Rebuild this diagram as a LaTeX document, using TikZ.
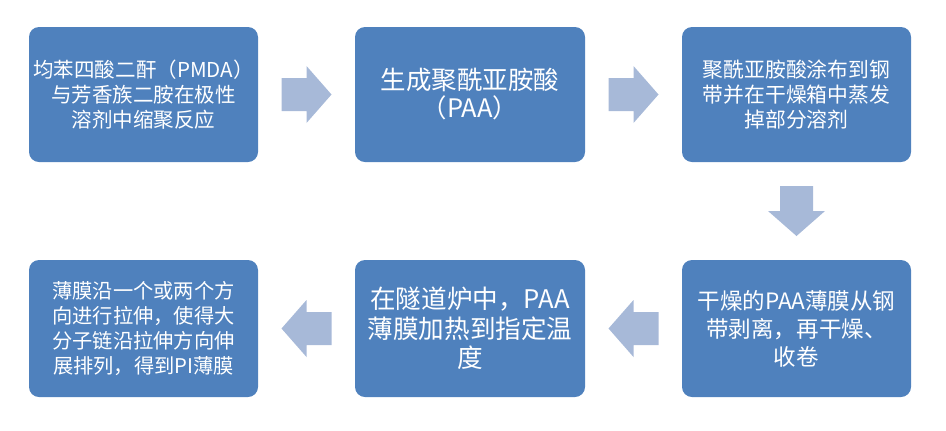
\documentclass[tikz,border=0pt]{standalone}
\usepackage{fontspec}
\setmainfont{Noto Sans CJK SC}
\usetikzlibrary{calc}
\definecolor{boxc}{RGB}{79,129,189}
\definecolor{arrc}{RGB}{167,185,216}
\tikzset{
  stepbox/.style={rounded corners=7.5pt, fill=boxc, text=white, align=center, inner sep=0pt,
    minimum width=171.75pt, minimum height=101.25pt},
  lowbox/.style={stepbox, minimum height=102.75pt},
  blockarrow/.pic={\fill[arrc] (-25,-16.5)--(0,-16.5)--(0,-28.5)--(25,0)--(0,28.5)--(0,16.5)--(-25,16.5)--cycle;}
}
\begin{document}
\begin{tikzpicture}[x=0.75pt,y=-0.75pt]
\useasboundingbox (0,0) rectangle (946,430);
\node[stepbox, font=\fontsize{15.4pt}{18.75pt}\selectfont] (b1) at (143.5,94.5)
  {均苯四酸二酐（PMDA）\\与芳香族二胺在极性\\溶剂中缩聚反应};
\node[stepbox, minimum width=172.5pt, font=\fontsize{19.1pt}{21pt}\selectfont] (b2) at (470,94.5)
  {生成聚酰亚胺酸\\（PAA）};
\node[stepbox, font=\fontsize{15.6pt}{18.6pt}\selectfont] (b3) at (796.5,94.5)
  {聚酰亚胺酸涂布到钢\\带并在干燥箱中蒸发\\掉部分溶剂};
\node[lowbox, font=\fontsize{16.9pt}{21pt}\selectfont] (b4) at (796.5,328.5)
  {干燥的PAA薄膜从钢\\带剥离，再干燥、\\收卷};
\node[lowbox, minimum width=172.5pt, font=\fontsize{19.2pt}{22pt}\selectfont] (b5) at (470,328.5)
  {在隧道炉中，PAA\\薄膜加热到指定温\\度};
\node[lowbox, font=\fontsize{15.2pt}{18.75pt}\selectfont] (b6) at (143.5,328.5)
  {薄膜沿一个或两个方\\向进行拉伸，使得大\\分子链沿拉伸方向伸\\展排列，得到PI薄膜};
\pic at ($(b1.east)!0.5!(b2.west)$) {blockarrow};
\pic at ($(b2.east)!0.5!(b3.west)$) {blockarrow};
\pic[rotate=-90] at ($(b3.south)!0.5!(b4.north)$) {blockarrow};
\pic[rotate=180] at ($(b4.west)!0.5!(b5.east)$) {blockarrow};
\pic[rotate=180] at ($(b5.west)!0.5!(b6.east)$) {blockarrow};
\end{tikzpicture}
\end{document}
